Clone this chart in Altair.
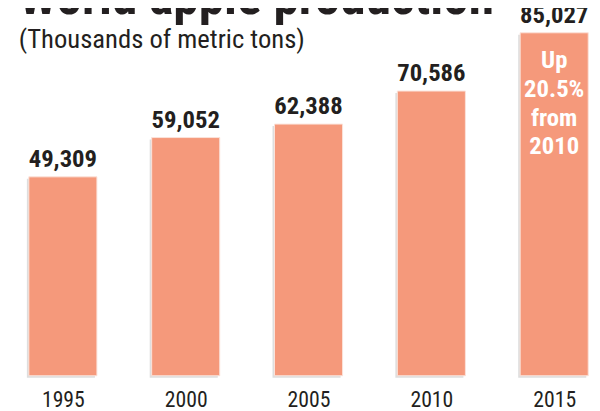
import altair as alt
import pandas as pd

years = [1995, 2000, 2005, 2010, 2015]
production = [49309, 59052, 62388, 70586, 85027]
note_year = [2015]
note_value = [85027]
note_text = ["Up\n20.5%\nfrom\n2010"]

df = pd.DataFrame({"year": years, "value": production})
note = pd.DataFrame({"year": note_year, "value": note_value, "text": note_text})

FONT = "Liberation Sans Narrow, Arial Narrow, Roboto Condensed, sans-serif"
BAR = "#F5997B"
INK = "#231F20"

x = alt.X(
    "year:Q",
    scale=alt.Scale(domain=[1992.967, 2016.338], nice=False, zero=False),
    axis=alt.Axis(
        values=years, format="d", title=None, grid=False, domain=False,
        ticks=False, tickSize=0, labelFontSize=22, labelFont=FONT,
        labelColor=INK, labelPadding=14, labelFlush=False,
    ),
)
y = alt.Y(
    "value:Q",
    scale=alt.Scale(domain=[0, 90500], nice=False),
    axis=None,
)

shadow = alt.Chart(df).mark_bar(size=69, color="#dedede", xOffset=-2, yOffset=2).encode(x=x, y=y)
bars = alt.Chart(df).mark_bar(size=69, color=BAR, stroke="#fbe3da", strokeWidth=1).encode(x=x, y=y)
labels = alt.Chart(df).mark_text(
    font=FONT, fontSize=25, fontWeight="bold", color=INK,
    baseline="alphabetic", dy=-10,
).encode(x=x, y=y, text=alt.Text("value:Q", format=","))
inner = alt.Chart(note).mark_text(
    font=FONT, fontSize=25, fontWeight="bold", color="white",
    baseline="alphabetic", lineBreak="\n", lineHeight=29, dy=36,
).encode(x=x, y=y, text="text:N")

chart = (
    alt.layer(shadow, bars, labels, inner)
    .properties(
        width=592, height=370,
        autosize=alt.AutoSizeParams(type="none"),
        padding={"left": 0, "top": 0, "right": 0, "bottom": 33},
        title=alt.TitleParams(
            "World apple production",
            subtitle="(Thousands of metric tons)",
            anchor="start", frame="group", orient="top", offset=-51, dx=11,
            font=FONT, fontSize=52, fontWeight="bold", color=INK,
            subtitleFont=FONT, subtitleFontSize=27, subtitleColor=INK,
            subtitlePadding=2,
        ),
    )
    .configure_view(stroke=None)
)

chart.save("out.html", embed_options={"renderer": "svg", "actions": False})
